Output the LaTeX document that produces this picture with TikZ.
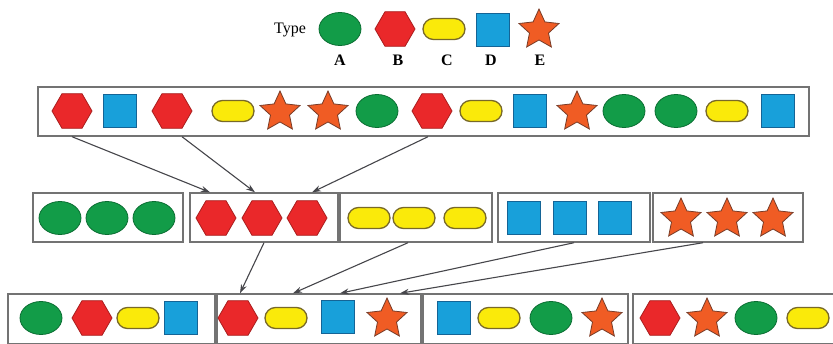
\documentclass[tikz,border=0pt]{standalone}
\usepackage{fontspec}
\setmainfont{Liberation Serif}
\usetikzlibrary{shapes.geometric, shapes.misc, arrows.meta}

\definecolor{cA}{RGB}{18,156,72}
\definecolor{cAd}{RGB}{10,110,50}
\definecolor{cB}{RGB}{234,40,42}
\definecolor{cBd}{RGB}{170,30,30}
\definecolor{cC}{RGB}{250,234,10}
\definecolor{cCd}{RGB}{120,105,40}
\definecolor{cD}{RGB}{24,160,218}
\definecolor{cDd}{RGB}{20,100,150}
\definecolor{cE}{RGB}{240,92,36}
\definecolor{cEd}{RGB}{120,60,40}
\definecolor{boxgray}{RGB}{115,115,115}
\definecolor{arrgray}{RGB}{70,70,75}

\begin{document}
\begin{tikzpicture}[x=1pt, y=-1pt,
  typeA/.style={ellipse, draw=cAd, fill=cA, line width=0.8pt, minimum width=42pt, minimum height=33pt, inner sep=0pt},
  typeB/.style={regular polygon, regular polygon sides=6, draw=cBd, fill=cB, line width=0.8pt, minimum size=40pt, inner sep=0pt},
  typeC/.style={rounded rectangle, draw=cCd, fill=cC, line width=1.3pt, minimum width=42pt, minimum height=21pt, inner sep=0pt},
  typeD/.style={rectangle, draw=cDd, fill=cD, line width=0.8pt, minimum size=33pt, inner sep=0pt},
  typeE/.style={star, star points=5, star point ratio=2.1, draw=cEd, fill=cE, line width=0.8pt, minimum size=42pt, inner sep=0pt},
  grp/.style={rectangle, draw=boxgray, fill=white, line width=1.4pt, inner sep=0pt},
  arr/.style={-{Stealth[length=9pt,width=6pt]}, draw=arrgray, line width=1.1pt}]

\useasboundingbox (0,0) rectangle (833,343);
\fontsize{16}{19}\selectfont

% ==== Legend ====
\node (lgT) at (290,30) {Type};
\node[typeA] (lgA) at (340,29) {};
\node[typeB] (lgB) at (395,29) {};
\node[typeC] (lgC) at (444,29) {};
\node[typeD] (lgD) at (493,30) {};
\node[typeE] (lgE) at (539,30) {};
\node[font=\bfseries] (lbA) at (340,60) {A};
\node[font=\bfseries] (lbB) at (398,60) {B};
\node[font=\bfseries] (lbC) at (447,60) {C};
\node[font=\bfseries] (lbD) at (491,60) {D};
\node[font=\bfseries] (lbE) at (540,60) {E};

% ==== Top row - mixed sequence ====
\node[grp, minimum width=771pt, minimum height=49pt] (pool) at (423.5,111.5) {};
\node[typeB] (p1) at (72,111) {};
\node[typeD] (p2) at (120,111) {};
\node[typeB] (p3) at (172,111) {};
\node[typeC] (p4) at (233,111) {};
\node[typeE] (p5) at (280,112) {};
\node[typeE] (p6) at (328,112) {};
\node[typeA] (p7) at (377,111) {};
\node[typeB] (p8) at (432,111) {};
\node[typeC] (p9) at (481,111) {};
\node[typeD] (p10) at (530,111) {};
\node[typeE] (p11) at (577,112) {};
\node[typeA] (p12) at (624,111) {};
\node[typeA] (p13) at (676,111) {};
\node[typeC] (p14) at (727,111) {};
\node[typeD] (p15) at (778,111) {};

% ==== Middle row - grouped by type ====
\node[grp, minimum width=150pt, minimum height=49pt] (grpA) at (108,217.5) {};
\node[grp, minimum width=148pt, minimum height=49pt] (grpB) at (264,217.5) {};
\node[grp, minimum width=152pt, minimum height=49pt] (grpC) at (416,217.5) {};
\node[grp, minimum width=152pt, minimum height=49pt] (grpD) at (574,217.5) {};
\node[grp, minimum width=150pt, minimum height=49pt] (grpE) at (728,217.5) {};

\node[typeA] (a1) at (60,218) {};
\node[typeA] (a2) at (107,218) {};
\node[typeA] (a3) at (154,218) {};
\node[typeB] (b1) at (216,218) {};
\node[typeB] (b2) at (262,218) {};
\node[typeB] (b3) at (307,218) {};
\node[typeC] (c1) at (369,218) {};
\node[typeC] (c2) at (414,218) {};
\node[typeC] (c3) at (465,218) {};
\node[typeD] (d1) at (524,218) {};
\node[typeD] (d2) at (570,218) {};
\node[typeD] (d3) at (615,218) {};
\node[typeE] (e1) at (681,219) {};
\node[typeE] (e2) at (727,219) {};
\node[typeE] (e3) at (773,219) {};

% ==== Bottom row - batches ====
\node[grp, minimum width=207pt, minimum height=50pt] (batch1) at (111.5,319) {};
\node[grp, minimum width=204pt, minimum height=50pt] (batch2) at (319,319) {};
\node[grp, minimum width=205pt, minimum height=50pt] (batch3) at (525.5,319) {};
\node[grp, minimum width=205pt, minimum height=50pt] (batch4) at (735.5,319) {};

\node[typeA] (q1) at (41,318) {};
\node[typeB] (q2) at (92,318) {};
\node[typeC] (q3) at (138,318) {};
\node[typeD] (q4) at (181,318) {};
\node[typeB] (q5) at (238,318) {};
\node[typeC] (q6) at (286,318) {};
\node[typeD] (q7) at (338,317) {};
\node[typeE] (q8) at (387,319) {};
\node[typeD] (q9) at (454,318) {};
\node[typeC] (q10) at (499,318) {};
\node[typeA] (q11) at (551,318) {};
\node[typeE] (q12) at (602,319) {};
\node[typeB] (q13) at (660,318) {};
\node[typeE] (q14) at (707,319) {};
\node[typeA] (q15) at (756,318) {};
\node[typeC] (q16) at (808,318) {};

% Arrows top -> middle
\draw[arr] (p1 |- pool.south) -- ([xshift=-54pt]grpB.north);
\draw[arr] ([xshift=10pt]p3 |- pool.south) -- ([xshift=-9pt]grpB.north);
\draw[arr] ([xshift=-4pt]p8 |- pool.south) -- ([xshift=48pt]grpB.north);

% Arrows middle -> bottom
\draw[arr] (grpB.south) -- ([xshift=-79pt]batch2.north);
\draw[arr] ([xshift=-8pt]grpC.south) -- ([xshift=-26pt]batch2.north);
\draw[arr] (grpD.south) -- ([xshift=21pt]batch2.north);
\draw[arr] ([xshift=-25pt]grpE.south) -- ([xshift=81pt]batch2.north);

\end{tikzpicture}
\end{document}
